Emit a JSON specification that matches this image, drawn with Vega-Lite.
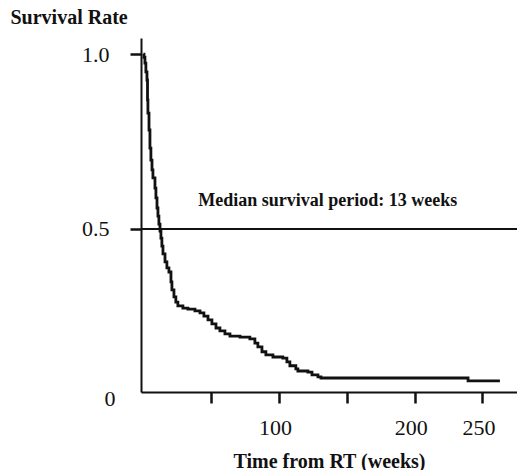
{
  "$schema": "https://vega.github.io/schema/vega-lite/v6.json",
  "width": 376,
  "height": 354,
  "autosize": {"type": "none"},
  "padding": {"left": 141, "top": 38, "right": 0, "bottom": 78},
  "config": {"view": {"stroke": null}, "font": "Liberation Serif"},
  "layer": [
    {
      "data": {
        "values": [
          {"weeks": 0, "survival": 1.0},
          {"weeks": 0.4, "survival": 0.991},
          {"weeks": 1.1, "survival": 0.974},
          {"weeks": 1.8, "survival": 0.949},
          {"weeks": 2.6, "survival": 0.926},
          {"weeks": 3.0, "survival": 0.869},
          {"weeks": 3.3, "survival": 0.831},
          {"weeks": 4.1, "survival": 0.783},
          {"weeks": 4.8, "survival": 0.731},
          {"weeks": 5.5, "survival": 0.697},
          {"weeks": 6.3, "survival": 0.669},
          {"weeks": 7.0, "survival": 0.646},
          {"weeks": 8.5, "survival": 0.617},
          {"weeks": 9.2, "survival": 0.589},
          {"weeks": 10.0, "survival": 0.56},
          {"weeks": 10.7, "survival": 0.537},
          {"weeks": 11.4, "survival": 0.514},
          {"weeks": 12.2, "survival": 0.494},
          {"weeks": 12.9, "survival": 0.474},
          {"weeks": 13.6, "survival": 0.451},
          {"weeks": 14.4, "survival": 0.429},
          {"weeks": 15.9, "survival": 0.406},
          {"weeks": 17.3, "survival": 0.389},
          {"weeks": 18.8, "survival": 0.377},
          {"weeks": 20.3, "survival": 0.349},
          {"weeks": 21.0, "survival": 0.326},
          {"weeks": 22.5, "survival": 0.306},
          {"weeks": 23.9, "survival": 0.291},
          {"weeks": 25.4, "survival": 0.28},
          {"weeks": 29.1, "survival": 0.274},
          {"weeks": 32.8, "survival": 0.271},
          {"weeks": 38.0, "survival": 0.266},
          {"weeks": 41.7, "survival": 0.26},
          {"weeks": 44.6, "survival": 0.251},
          {"weeks": 47.6, "survival": 0.24},
          {"weeks": 50.5, "survival": 0.229},
          {"weeks": 53.5, "survival": 0.217},
          {"weeks": 56.4, "survival": 0.209},
          {"weeks": 60.1, "survival": 0.2},
          {"weeks": 63.8, "survival": 0.194},
          {"weeks": 71.2, "survival": 0.191},
          {"weeks": 78.5, "survival": 0.186},
          {"weeks": 82.2, "survival": 0.174},
          {"weeks": 84.4, "survival": 0.163},
          {"weeks": 87.4, "survival": 0.149},
          {"weeks": 90.3, "survival": 0.14},
          {"weeks": 95.5, "survival": 0.134},
          {"weeks": 102.8, "survival": 0.131},
          {"weeks": 105.8, "survival": 0.12},
          {"weeks": 108.0, "survival": 0.109},
          {"weeks": 112.4, "survival": 0.1},
          {"weeks": 113.9, "survival": 0.094},
          {"weeks": 121.3, "survival": 0.091},
          {"weeks": 124.3, "survival": 0.083},
          {"weeks": 128.7, "survival": 0.077},
          {"weeks": 130.9, "survival": 0.074},
          {"weeks": 239.4, "survival": 0.066},
          {"weeks": 262.9, "survival": 0.066}
        ]
      },
      "mark": {"type": "line", "interpolate": "step-after", "color": "#111111", "strokeWidth": 2.8},
      "encoding": {
        "x": {
          "field": "weeks",
          "type": "quantitative",
          "title": "Time from RT (weeks)",
          "scale": {"domain": [-1.8, 275.5], "nice": false, "zero": false},
          "axis": {
            "values": [50, 100, 150, 200, 250],
            "labelExpr": "datum.value == 50 || datum.value == 150 ? '' : datum.label",
            "grid": false,
            "domainColor": "#111111",
            "domainWidth": 2,
            "tickColor": "#111111",
            "tickWidth": 2.5,
            "tickSize": 11,
            "labelFont": "Liberation Serif",
            "labelFontSize": 22,
            "labelColor": "#111111",
            "labelPadding": 14,
            "labelOffset": -4,
            "labelFlush": false,
            "titleFont": "Liberation Serif",
            "titleFontSize": 20,
            "titleFontWeight": "bold",
            "titleColor": "#111111",
            "titlePadding": 13
          }
        },
        "y": {
          "field": "survival",
          "type": "quantitative",
          "title": "Survival Rate",
          "scale": {"domain": [0.034, 1.046], "nice": false, "zero": false},
          "axis": {
            "values": [0.034, 0.5, 1.0],
            "labelExpr": "datum.value < 0.1 ? '0' : format(datum.value, '.1f')",
            "grid": false,
            "domainColor": "#111111",
            "domainWidth": 2,
            "tickColor": "#111111",
            "tickWidth": 2.5,
            "tickSize": 11,
            "tickOpacity": {"condition": {"test": "datum.value < 0.1", "value": 0}, "value": 1},
            "labelFont": "Liberation Serif",
            "labelFontSize": 22,
            "labelColor": "#111111",
            "labelPadding": {"condition": {"test": "datum.value < 0.1", "value": 15}, "value": 21},
            "labelOffset": {"condition": {"test": "datum.value < 0.1", "value": 6}, "value": 0},
            "labelFlush": false,
            "titleFont": "Liberation Serif",
            "titleFontSize": 20,
            "titleFontWeight": "bold",
            "titleColor": "#111111",
            "titleAngle": 0,
            "titleAlign": "left",
            "titleBaseline": "middle",
            "titleX": -131,
            "titleY": -21
          }
        }
      }
    },
    {
      "data": {"values": [{"median": 0.5}]},
      "mark": {"type": "rule", "color": "#111111", "strokeWidth": 2},
      "encoding": {"y": {"field": "median", "type": "quantitative"}}
    },
    {
      "data": {"values": [{"label": "Median survival period: 13 weeks"}]},
      "mark": {"type": "text", "font": "Liberation Serif", "fontWeight": "bold", "fontSize": 18, "color": "#111111", "align": "center", "baseline": "middle"},
      "encoding": {
        "x": {"datum": 136},
        "y": {"datum": 0.58},
        "text": {"field": "label", "type": "nominal"}
      }
    }
  ]
}
